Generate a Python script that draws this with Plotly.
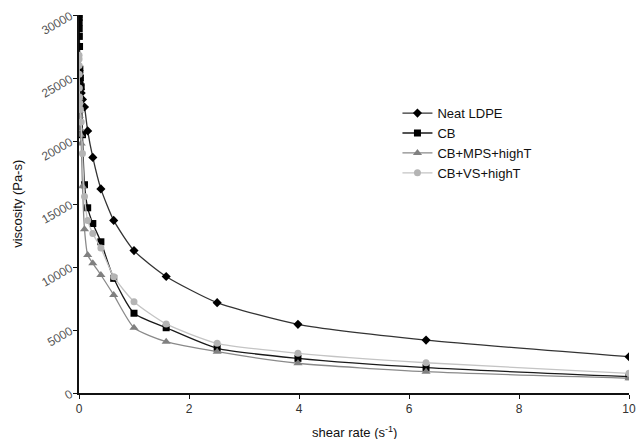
import plotly.graph_objects as go

shear_rate = [0.001, 0.00158, 0.00251, 0.00398, 0.00631, 0.01, 0.0158, 0.0251, 0.0398, 0.0631,
              0.1, 0.158, 0.251, 0.398, 0.631, 1.0, 1.585, 2.512, 3.981, 6.31, 10.0]

neat_ldpe = [25600, 25400, 25200, 25000, 24800, 24600, 24400, 24100, 23800, 23300,
             22700, 20800, 18700, 16200, 13700, 11300, 9250, 7170, 5450, 4200, 2880]
cb = [30000, 29800, 29400, 28900, 28300, 27500, 25700, 25000, 24300, 20500,
      16530, 14700, 13450, 12000, 9100, 6330, 5180, 3550, 2750, 2010, 1300]
cb_mps = [23400, 23100, 22800, 22400, 22000, 21500, 21000, 20500, 19800, 16400,
          13000, 10950, 10290, 9365, 7780, 5180, 4070, 3280, 2360, 1690, 1170]
cb_vs = [26800, 26500, 26000, 25300, 24200, 23500, 23000, 22500, 21500, 19000,
         15600, 13700, 12650, 11500, 9230, 7250, 5480, 3940, 3150, 2400, 1560]

series_names = ["Neat LDPE", "CB", "CB+MPS+highT", "CB+VS+highT"]
x_ticks = [0, 2, 4, 6, 8, 10]
y_ticks = [0, 5000, 10000, 15000, 20000, 25000, 30000]
x_title = "shear rate (s<sup>-1</sup>)"
y_title = "viscosity (Pa-s)"

styles = [
    dict(line_color="#333333", marker_color="#000000", symbol="diamond", size=7),
    dict(line_color="#1a1a1a", marker_color="#000000", symbol="square", size=7),
    dict(line_color="#8a8a8a", marker_color="#808080", symbol="triangle-up", size=8),
    dict(line_color="#c4c4c4", marker_color="#b4b4b4", symbol="circle", size=7),
]

fig = go.Figure()
for name, ys, st in zip(series_names, [neat_ldpe, cb, cb_mps, cb_vs], styles):
    fig.add_trace(go.Scatter(
        x=shear_rate, y=ys, name=name, mode="lines+markers",
        line=dict(color=st["line_color"], width=1.3, shape="spline", smoothing=0.6),
        marker=dict(symbol=st["symbol"], size=st["size"], color=st["marker_color"]),
    ))

font_family = "Liberation Sans, Arial, sans-serif"
fig.update_layout(
    width=637, height=439,
    margin=dict(l=79, r=8, t=15, b=46),
    paper_bgcolor="white", plot_bgcolor="white",
    font=dict(family=font_family, size=12, color="#222222"),
    showlegend=True,
    legend=dict(x=0.579, y=0.78, xanchor="left", yanchor="top",
                bgcolor="rgba(0,0,0,0)", font=dict(size=13, color="#111111"),
                tracegroupgap=0, itemwidth=30),
    annotations=[
        dict(text=x_title, xref="paper", yref="paper", x=0.5, y=-0.103,
             xanchor="center", yanchor="middle", showarrow=False,
             font=dict(size=13, color="#111111")),
        dict(text=y_title, xref="paper", yref="paper", x=-0.113, y=0.5,
             xanchor="center", yanchor="middle", showarrow=False, textangle=-90,
             font=dict(size=13, color="#111111")),
    ],
)
fig.update_xaxes(
    range=[0, 10], tickvals=x_ticks, ticktext=[str(v) for v in x_ticks],
    showline=True, linecolor="#111111", linewidth=2, showgrid=False, zeroline=False,
    ticks="outside", ticklen=4, tickcolor="#111111", automargin=False,
    tickfont=dict(size=12, color="#333333"),
)
fig.update_yaxes(
    range=[0, 30000], tickvals=y_ticks, ticktext=[str(v) for v in y_ticks],
    showline=True, linecolor="#111111", linewidth=2, showgrid=False, zeroline=False,
    ticks="outside", ticklen=4, tickcolor="#111111", tickangle=-30, automargin=False,
    tickfont=dict(size=12, color="#555555"),
)

fig.write_html("out.html")
